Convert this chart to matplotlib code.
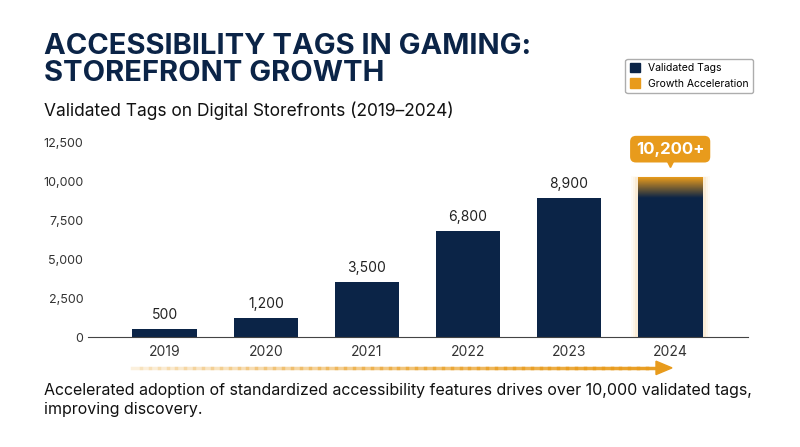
import numpy as np
import matplotlib
matplotlib.use("Agg")
import matplotlib.pyplot as plt
from matplotlib.colors import LinearSegmentedColormap
from matplotlib.patches import Rectangle

years = ['2019', '2020', '2021', '2022', '2023', '2024']
tags = [500, 1200, 3500, 6800, 8900, 10200]
labels = ['500', '1,200', '3,500', '6,800', '8,900', '10,200+']

navy = '#0b2447'
orange = '#e89b1c'

plt.rcParams['font.family'] = ['Inter', 'DejaVu Sans']

fig = plt.figure(figsize=(8, 4.47), dpi=100)
ax = fig.add_axes([0.11, 0.246, 0.825, 0.436])
x = np.arange(len(years))
w = 0.64

# soft glow behind the last bar
for k, a in enumerate([0.04, 0.06, 0.09]):
    pad = 0.07 - k * 0.02
    ax.add_patch(Rectangle((x[-1] - w / 2 - pad, 0), w + 2 * pad, tags[-1] + pad * 1500,
                           color=orange, alpha=a, lw=0, zorder=1))

ax.bar(x, tags, width=w, color=navy, zorder=2)

# orange fade at top of 2024 bar
cmap = LinearSegmentedColormap.from_list('fade', [navy, orange])
grad = np.linspace(0, 1, 100).reshape(-1, 1)
ax.imshow(grad, cmap=cmap, aspect='auto', origin='lower', zorder=3,
          extent=(x[-1] - w / 2, x[-1] + w / 2, tags[-1] - 1300, tags[-1]))

for xi, v, lab in zip(x[:-1], tags[:-1], labels[:-1]):
    ax.text(xi, v + 450, lab, ha='center', va='bottom', fontsize=10, color='#222222')

# callout for 2024
ax.text(x[-1], tags[-1] + 1850, labels[-1], ha='center', va='center', fontsize=12,
        fontweight='bold', color='white', zorder=5,
        bbox=dict(boxstyle='round,pad=0.35', fc=orange, ec='none'))
ax.plot([x[-1]], [tags[-1] + 1000], marker='v', ms=7, color=orange, zorder=5)

ax.set_xlim(-0.76, 5.77)
ax.set_ylim(0, 12500)
ax.set_yticks([0, 2500, 5000, 7500, 10000, 12500])
ax.set_yticklabels(['0', '2,500', '5,000', '7,500', '10,000', '12,500'])
ax.set_xticks(x)
ax.set_xticklabels(years)
ax.tick_params(axis='both', length=0, labelsize=9, colors='#333333')
ax.tick_params(axis='x', pad=6, labelsize=10)
for s in ['top', 'right', 'left']:
    ax.spines[s].set_visible(False)
ax.spines['bottom'].set_color('#444444')

# legend
h1 = Rectangle((0, 0), 1, 1, color=navy)
h2 = Rectangle((0, 0), 1, 1, color=orange)
fig.legend([h1, h2], ['Validated Tags', 'Growth Acceleration'], loc='upper right',
           bbox_to_anchor=(0.948, 0.88), fontsize=7.5, frameon=True,
           handlelength=1.0, handleheight=1.0, edgecolor='#999999', fancybox=True)

fig.text(0.055, 0.805, 'ACCESSIBILITY TAGS IN GAMING:\nSTOREFRONT GROWTH', fontsize=21,
         fontweight='bold', color=navy, va='bottom', linespacing=1.0)
fig.text(0.055, 0.752, 'Validated Tags on Digital Storefronts (2019\u20132024)', fontsize=12.5,
         color='#111111', va='center')

# fading arrow
xs = np.linspace(0.165, 0.82, 60)
for i in range(len(xs) - 1):
    fig.add_artist(plt.Line2D([xs[i], xs[i + 1]], [0.177, 0.177], color=orange,
                              alpha=0.15 + 0.85 * i / len(xs), lw=2.5))
fig.add_artist(plt.Polygon([[0.82, 0.162], [0.84, 0.177], [0.82, 0.192]],
                           closed=True, color=orange))

fig.text(0.055, 0.105, 'Accelerated adoption of standardized accessibility features drives over 10,000 validated tags,\nimproving discovery.',
         fontsize=11.5, color='#111111', va='center', linespacing=1.35)

fig.savefig('out.png', dpi=100)
